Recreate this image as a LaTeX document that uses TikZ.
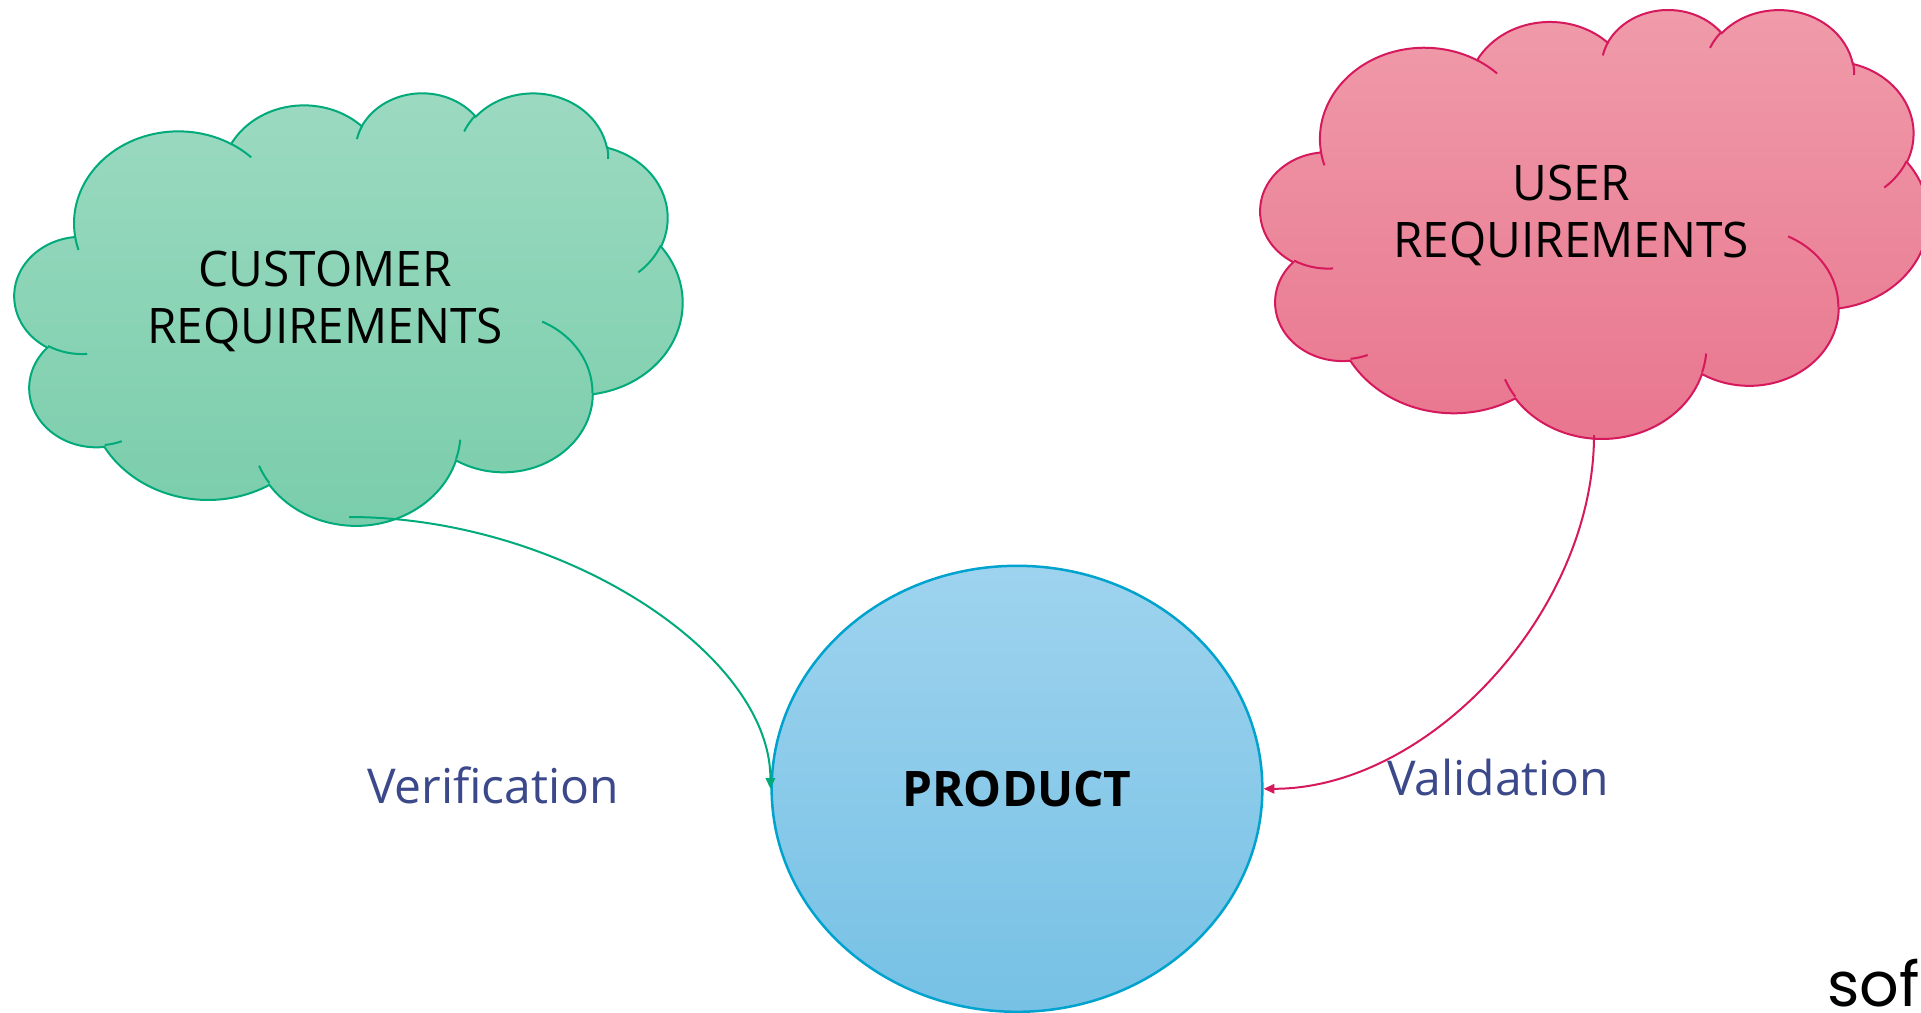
\documentclass[tikz,border=0pt]{standalone}
\usepackage{fontspec}
\setmainfont{Open Sans}
\newfontfamily\narrowfont{Open Sans}[FakeStretch=0.975]
\newfontfamily\soffont{Poppins}
\usetikzlibrary{shapes.geometric,arrows.meta}

\definecolor{gTop}{RGB}{156,218,193}
\definecolor{gBot}{RGB}{121,205,171}
\definecolor{gLine}{RGB}{0,170,122}
\definecolor{pTop}{RGB}{240,156,170}
\definecolor{pBot}{RGB}{232,117,142}
\definecolor{pLine}{RGB}{214,24,92}
\definecolor{bTop}{RGB}{158,211,238}
\definecolor{bBot}{RGB}{118,193,229}
\definecolor{bLine}{RGB}{0,163,206}
\definecolor{lblC}{RGB}{59,73,138}

% DrawingML-like arcTo: wR, hR, start angle, sweep angle (visual angles, y down)
\newcommand\cloudcalc[4]{%
  \pgfmathsetmacro\cA{atan2((#1)*sin(#3),(#2)*cos(#3))}%
  \pgfmathsetmacro\cB{atan2((#1)*sin((#3)+(#4)),(#2)*cos((#3)+(#4)))}%
  \pgfmathsetmacro\cB{(\cA)+mod((\cB)-(\cA)+720,360)}%
  \global\let\cts\cA \global\let\cte\cB}
\newcommand\carc[4]{\pgfextra{\cloudcalc{#1}{#2}{#3}{#4}} arc[x radius=#1, y radius=#2, start angle=\cts, end angle=\cte]}

\newcommand\cloudbody{(3.9,14.37)
 \carc{6.753}{9.19}{-190.48748}{123.78053}
 \carc{5.333}{7.267}{-144.10238}{89.94523}
 \carc{4.365}{5.945}{-145.80792}{99.72302}
 \carc{4.857}{6.595}{-130.98607}{117.24173}
 \carc{5.333}{7.273}{-78.70888}{109.02692}
 \carc{6.775}{9.22}{-46.26725}{130.269}
 \carc{5.785}{7.867}{0.62502}{114.03333}
 \carc{6.752}{9.215}{22.4516}{115.17255}
 \carc{7.72}{10.543}{66.24263}{75.71102}
 \carc{4.36}{5.918}{-274.94208}{146.73557}
 \carc{4.345}{5.945}{-246.8285}{152.51885} -- cycle}

\newcommand\cloudinner{(4.693,26.177) \carc{4.345}{5.945}{86.742}{26.4295}
 (6.928,34.899) \carc{4.36}{5.918}{73.6105}{11.4475}
 (16.478,39.09) \carc{6.752}{9.215}{137.6242}{14.0811}
 (28.827,34.751) \carc{6.752}{9.215}{6.4533}{15.9984}
 (34.129,22.954) \carc{5.785}{7.867}{-70.2924}{70.9174}
 (41.798,15.354) \carc{5.333}{7.273}{30.318}{27.7515}
 (38.324,5.426) \carc{4.857}{6.595}{-13.7443}{14.8589}
 (29.078,3.952) \carc{4.857}{6.595}{-149.1815}{18.1954}
 (22.141,4.72) \carc{4.365}{5.945}{-163.4943}{17.6864}
 (14.0,5.192) \carc{6.753}{9.19}{-66.707}{12.3194}
 (4.127,15.789) \carc{6.753}{9.19}{157.6544}{11.8582}}

\tikzset{
  cloudtext/.style={align=center, inner sep=0pt, text=black, font=\narrowfont\fontsize{49}{57}\selectfont},
  lbl/.style={inner sep=0pt, text=lblC, font=\fontsize{48}{56}\selectfont},
  gconn/.style={draw=gLine, line width=2pt, -{Triangle[length=10.7pt,width=9.3pt]}},
  pconn/.style={draw=pLine, line width=2pt, -{Triangle[length=10.7pt,width=9.3pt]}},
}

\begin{document}
\begin{tikzpicture}[x=1pt,y=-1pt]
\useasboundingbox (0,0) rectangle (1921,1012);
\fill[white] (0,0) rectangle (1921,1012);
\clip (0,0) rectangle (1921,1012);

% green cloud
\begin{scope}[shift={(14.7,91.9)}, xscale=15.456, yscale=10.009]
  \draw[draw=gLine, line width=2pt, top color=gTop, bottom color=gBot] \cloudbody;
  \draw[draw=gLine, line width=2pt] \cloudinner;
\end{scope}

% pink cloud
\begin{scope}[shift={(1260.6,8.6)}, xscale=15.456, yscale=9.926]
  \draw[draw=pLine, line width=2pt, top color=pTop, bottom color=pBot] \cloudbody;
  \draw[draw=pLine, line width=2pt] \cloudinner;
\end{scope}

\node[cloudtext, anchor=north] (ctext) at (325,251) {CUSTOMER\\REQUIREMENTS};
\node[cloudtext, anchor=north] (utext) at (1571,165) {USER\\REQUIREMENTS};

% product
\node[ellipse, draw=bLine, line width=2.5pt, top color=bTop, bottom color=bBot,
      minimum width=490.7pt, minimum height=446pt, inner sep=0pt, text=black,
      font=\narrowfont\bfseries\fontsize{49}{57}\selectfont] (product) at (1017,788.8) {PRODUCT};

% connectors
\coordinate (gstart) at (349,517);
\coordinate (pstart) at (1594,435);
\draw[gconn] (gstart) .. controls +(211.5,0) and +(0,-136) .. (product.west);
\draw[pconn] (pstart) .. controls +(0,177) and +(165.5,0) .. (product.east);

% labels
\node[lbl, anchor=base west] (ver) at (367,803.3) {Verification};
\node[lbl, anchor=base west] (val) at (1387,795) {Validation};

\node[inner sep=0pt, anchor=base west, text=black, font=\soffont\fontsize{62}{64}\selectfont] (sof) at (1827,1006) {sof};
\end{tikzpicture}
\end{document}
